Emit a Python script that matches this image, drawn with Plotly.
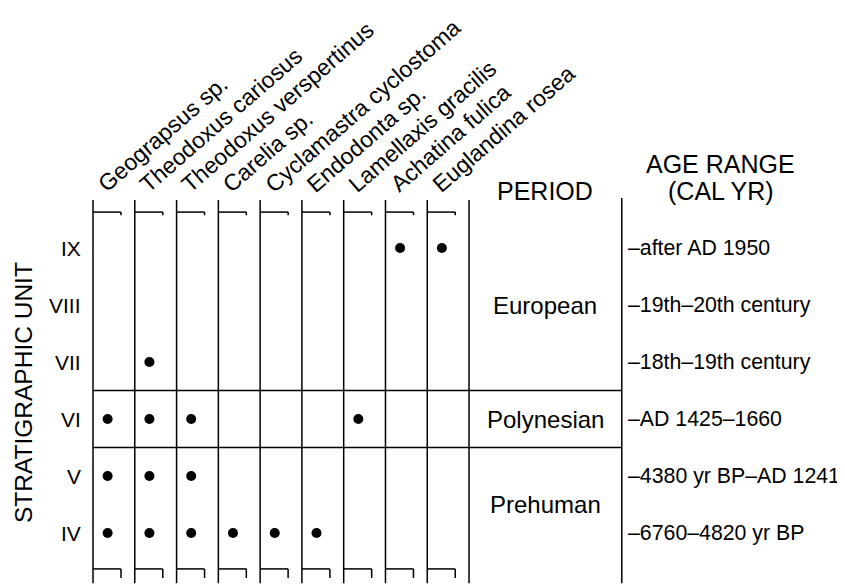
import plotly.graph_objects as go

# ---------------- data ----------------
species = [
    "Geograpsus sp.",
    "Theodoxus cariosus",
    "Theodoxus verspertinus",
    "Carelia sp.",
    "Cyclamastra cyclostoma",
    "Endodonta sp.",
    "Lamellaxis gracilis",
    "Achatina fulica",
    "Euglandina rosea",
]
units = ["IV", "V", "VI", "VII", "VIII", "IX"]          # bottom -> top
ages = [
    "–6760–4820 yr BP",
    "–4380 yr BP–AD 1241",
    "–AD 1425–1660",
    "–18th–19th century",
    "–19th–20th century",
    "–after AD 1950",
]
# presence of each species in stratigraphic units
presence = {
    "Geograpsus sp.": ["IV", "V", "VI"],
    "Theodoxus cariosus": ["IV", "V", "VI", "VII"],
    "Theodoxus verspertinus": ["IV", "V", "VI"],
    "Carelia sp.": ["IV"],
    "Cyclamastra cyclostoma": ["IV"],
    "Endodonta sp.": ["IV"],
    "Lamellaxis gracilis": ["VI"],
    "Achatina fulica": ["IX"],
    "Euglandina rosea": ["IX"],
}
periods = ["Prehuman", "Polynesian", "European"]
period_units = [["IV", "V"], ["VI"], ["VII", "VIII", "IX"]]

# ---------------- layout constants ----------------
FONT = "Liberation Sans, Arial, Helvetica, sans-serif"
BLACK = "black"
LW = 1.5
n_sp = len(species)
period_x = 12.656          # vertical line separating period / age columns
y_top = 5.84
y_bot = -0.88
dot_off = 0.35

fig = go.Figure()

# dots
xs, ys = [], []
for i, sp in enumerate(species):
    for u in presence[sp]:
        xs.append(i + dot_off)
        ys.append(units.index(u))
fig.add_trace(go.Scatter(x=xs, y=ys, mode="markers",
                         marker=dict(size=10, color=BLACK), hoverinfo="skip",
                         showlegend=False))

shapes = []
def line(x0, y0, x1, y1):
    shapes.append(dict(type="line", xref="x", yref="y", x0=x0, y0=y0, x1=x1, y1=y1,
                       line=dict(color=BLACK, width=LW)))

# column lines with brackets
for k in range(n_sp + 1):
    line(k, y_bot, k, y_top)
for k in range(n_sp):
    line(k, 5.63, k + 0.67, 5.63)
    line(k + 0.67, 5.63, k + 0.67, 5.575)
    line(k, -0.63, k + 0.67, -0.63)
    line(k + 0.67, -0.63, k + 0.67, -0.79)
# period column right border
line(period_x, y_bot, period_x, 5.877)
# period boundaries
for pu in period_units[:-1]:
    yb = units.index(pu[-1]) + 0.5
    line(0, yb, period_x, yb)

ann = []
def text(x, y, s, size, xanchor="center", yanchor="middle", angle=0):
    ann.append(dict(x=x, y=y, xref="x", yref="y", text=s, showarrow=False,
                    xanchor=xanchor, yanchor=yanchor, textangle=angle,
                    font=dict(family=FONT, size=size, color=BLACK)))

# species labels (rotated)
for i, sp in enumerate(species):
    text(i - 0.07, 5.84, sp, 23, xanchor="left", yanchor="bottom", angle=-41)

# unit numerals and age ranges
for j, u in enumerate(units):
    text(-0.24, j, u, 21, xanchor="right")
    text(period_x + 0.09, j, ages[j], 21.3, xanchor="left")

# period labels
mid_x = (n_sp + period_x) / 2
for p, pu in zip(periods, period_units):
    yc = (units.index(pu[0]) + units.index(pu[-1])) / 2
    if p == "European":
        yc = units.index("VIII")
    text(mid_x, yc, p, 24)

# headers
text(mid_x, 6.0, "PERIOD", 25)
text(15.03, 6.47, "AGE RANGE", 25)
text(15.03, 6.0, "(CAL YR)", 25)
text(-1.675, 2.456, "STRATIGRAPHIC UNIT", 24.5, angle=-90)

fig.update_layout(
    width=845, height=586, autosize=False,
    margin=dict(l=0, r=0, t=0, b=0),
    paper_bgcolor="white", plot_bgcolor="white",
    xaxis=dict(range=[-2.0345, 18.190], visible=False, fixedrange=True),
    yaxis=dict(range=[-1.0702, 9.2105], visible=False, fixedrange=True),
    shapes=shapes, annotations=ann, showlegend=False,
)
fig.write_html("out.html")
